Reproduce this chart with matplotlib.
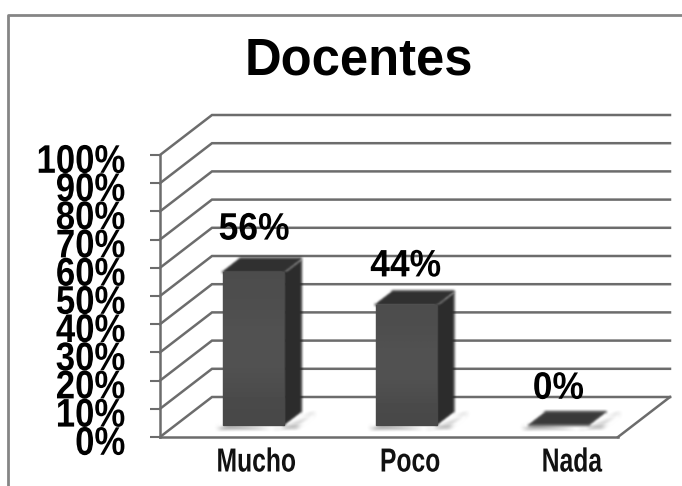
import numpy as np
import matplotlib
matplotlib.use("Agg")
import matplotlib.pyplot as plt
from matplotlib.patches import Polygon
from matplotlib.patheffects import AbstractPathEffect
from matplotlib.transforms import Affine2D, ScaledTranslation

title = "Docentes"
categories = ["Mucho", "Poco", "Nada"]
values = [56, 44, 0]
value_labels = ["56%", "44%", "0%"]
y_ticks = list(range(0, 101, 10))
y_tick_labels = [f"{v}%" for v in y_ticks]

W, H = 682, 486
plt.rcParams["font.family"] = ["Liberation Sans", "DejaVu Sans"]


class Stretch(AbstractPathEffect):
    """Draw text glyphs narrower/taller about their own centre."""

    def __init__(self, sx=1.0, sy=1.0):
        super().__init__()
        self.sx, self.sy = sx, sy

    def draw_path(self, renderer, gc, tpath, affine, rgbFace=None):
        bb = tpath.get_extents(affine)
        cx, cy = (bb.x0 + bb.x1) / 2, (bb.y0 + bb.y1) / 2
        t = affine + Affine2D().translate(-cx, -cy).scale(self.sx, self.sy).translate(cx, cy)
        renderer.draw_path(gc, tpath, t, rgbFace)


def blur(radius):
    """Box-blur agg filter that softens the scanned look of a mark."""
    def f(img, dpi):
        pad = radius * 3
        out = np.pad(img, ((pad, pad), (pad, pad), (0, 0)), mode="constant")
        kernel = np.ones(2 * radius + 1) / (2 * radius + 1)
        for _ in range(2):
            for axis in (0, 1):
                out = np.apply_along_axis(lambda m: np.convolve(m, kernel, mode="same"), axis, out)
        return out, -pad, -pad
    return f


fig = plt.figure(figsize=(W / 100, H / 100), dpi=100, facecolor="white")
L, R, B, T = 160, 618, 437, 155
ax = fig.add_axes([L / W, 1 - B / H, (R - L) / W, (B - T) / H])
ax.set_xlim(0, 3)
ax.set_ylim(0, 100)
ax.patch.set_visible(False)

px = 3 / (R - L)
py = 100 / (B - T)
DX, DY = 52 * px, 40 * py
GRID = "#6c6c6c"

fig.add_artist(plt.Line2D([8 / W, 8 / W, 1], [0, 1 - 15 / H, 1 - 15 / H], color="#858585", lw=2))

for v in y_ticks:
    ax.plot([0, DX, 3 + DX], [v, v + DY, v + DY], color=GRID, lw=1.8, clip_on=False,
            solid_joinstyle="miter", zorder=1)
ax.plot([3, 3 + DX], [0, DY], color=GRID, lw=1.8, clip_on=False, zorder=1)

for s in ["top", "right"]:
    ax.spines[s].set_visible(False)
for s in ["left", "bottom"]:
    ax.spines[s].set_color(GRID)
    ax.spines[s].set_linewidth(1.8)
ax.set_xticks([])
ax.set_yticks(y_ticks)
ax.set_yticklabels(y_tick_labels, fontsize=25, fontweight="bold", color="black")
ax.tick_params(axis="y", length=7, width=1.5, color=GRID, pad=18)
shift = ScaledTranslation(0, -3 / 100, fig.dpi_scale_trans)
for lab in ax.get_yticklabels():
    lab.set_transform(lab.get_transform() + shift)
    lab.set_path_effects([Stretch(1.0, 1.15)])

bw = 61 * px
base_d = 0.3
depth = 0.33
scale = 0.97
label_dy = [0, -4, -6]
label_dx = [-2, -3, -3]
cat_dx = [0, 1, 10]
grad = np.array([[0.30], [0.31], [0.33], [0.31], [0.28]])
for i, (v, vl, c) in enumerate(zip(values, value_labels, categories)):
    x0 = i + 0.5 + base_d * DX - bw / 2 + 1.5 * px
    x1 = x0 + bw
    y0 = base_d * DY
    y1 = y0 + v * scale
    dx, dy = depth * DX, depth * DY
    sh = Polygon([(x1 - 6 * px, y0 - 3 * py), (x1 + dx + 14 * px, y0 + dy * 0.9), (x1 + dx - 4 * px, y0 - 2 * py),
                  (x0 - 6 * px, y0 - 3 * py), (x0 + 6 * px, y0 + 2 * py)],
                 closed=True, fc="#cfcfcf", ec="none", zorder=2, clip_on=False)
    sh.set_agg_filter(blur(2))
    ax.add_patch(sh)
    if v > 0:
        side = Polygon([(x1, y0), (x1 + dx, y0 + dy), (x1 + dx, y1 + dy - 1 * py), (x1, y1)],
                       closed=True, fc="#2d2d2d", ec="#2d2d2d", lw=1, zorder=3, clip_on=False)
        top = Polygon([(x0, y1), (x1, y1), (x1 + dx, y1 + dy), (x0 + dx, y1 + dy)],
                      closed=True, fc="#303030", ec="#303030", lw=1.5, joinstyle="round", zorder=3, clip_on=False)
        front = Polygon([(x0, y0), (x1, y0), (x1, y1), (x0, y1)], closed=True, fc="#4d4d4d",
                        ec="#474747", lw=1, zorder=4, clip_on=False)
        for p in (side, top):
            p.set_agg_filter(blur(1))
            ax.add_patch(p)
        ax.add_patch(front)
        im = ax.imshow(grad, cmap="gray", vmin=0, vmax=1, extent=[x0, x1, y0, y1], aspect="auto",
                       interpolation="bicubic", zorder=4.5)
        im.set_clip_path(front)
    else:
        flat = Polygon([(x0, y0), (x1, y0), (x1 + dx, y0 + dy), (x0 + dx, y0 + dy)],
                       closed=True, fc="#3a3a3a", ec="#555555", lw=1, zorder=4, clip_on=False)
        flat.set_agg_filter(blur(1))
        ax.add_patch(flat)
    ty = y1 + dy + 13 * py + label_dy[i] * py
    ax.text(x0 + (dx + bw) / 2 - 6 * px + label_dx[i] * px, ty, vl, ha="center", va="bottom", fontsize=25.5,
            fontweight="bold", color="black", zorder=6, clip_on=False,
            path_effects=[Stretch(1.0, 1.08)])
    ax.text(i + 0.5 + (20 + cat_dx[i]) * px, -26 * py, c, ha="center", va="center", fontsize=24,
            fontweight="bold", color="#111111", clip_on=False, path_effects=[Stretch(0.74, 1.0)])

ax.set_xlim(0, 3)
ax.set_ylim(0, 100)
fig.text(359 / W, 1 - 61 / H, title, ha="center", va="center", fontsize=36.5, fontweight="bold", color="black")
fig.savefig("out.png", dpi=100, facecolor="white")
